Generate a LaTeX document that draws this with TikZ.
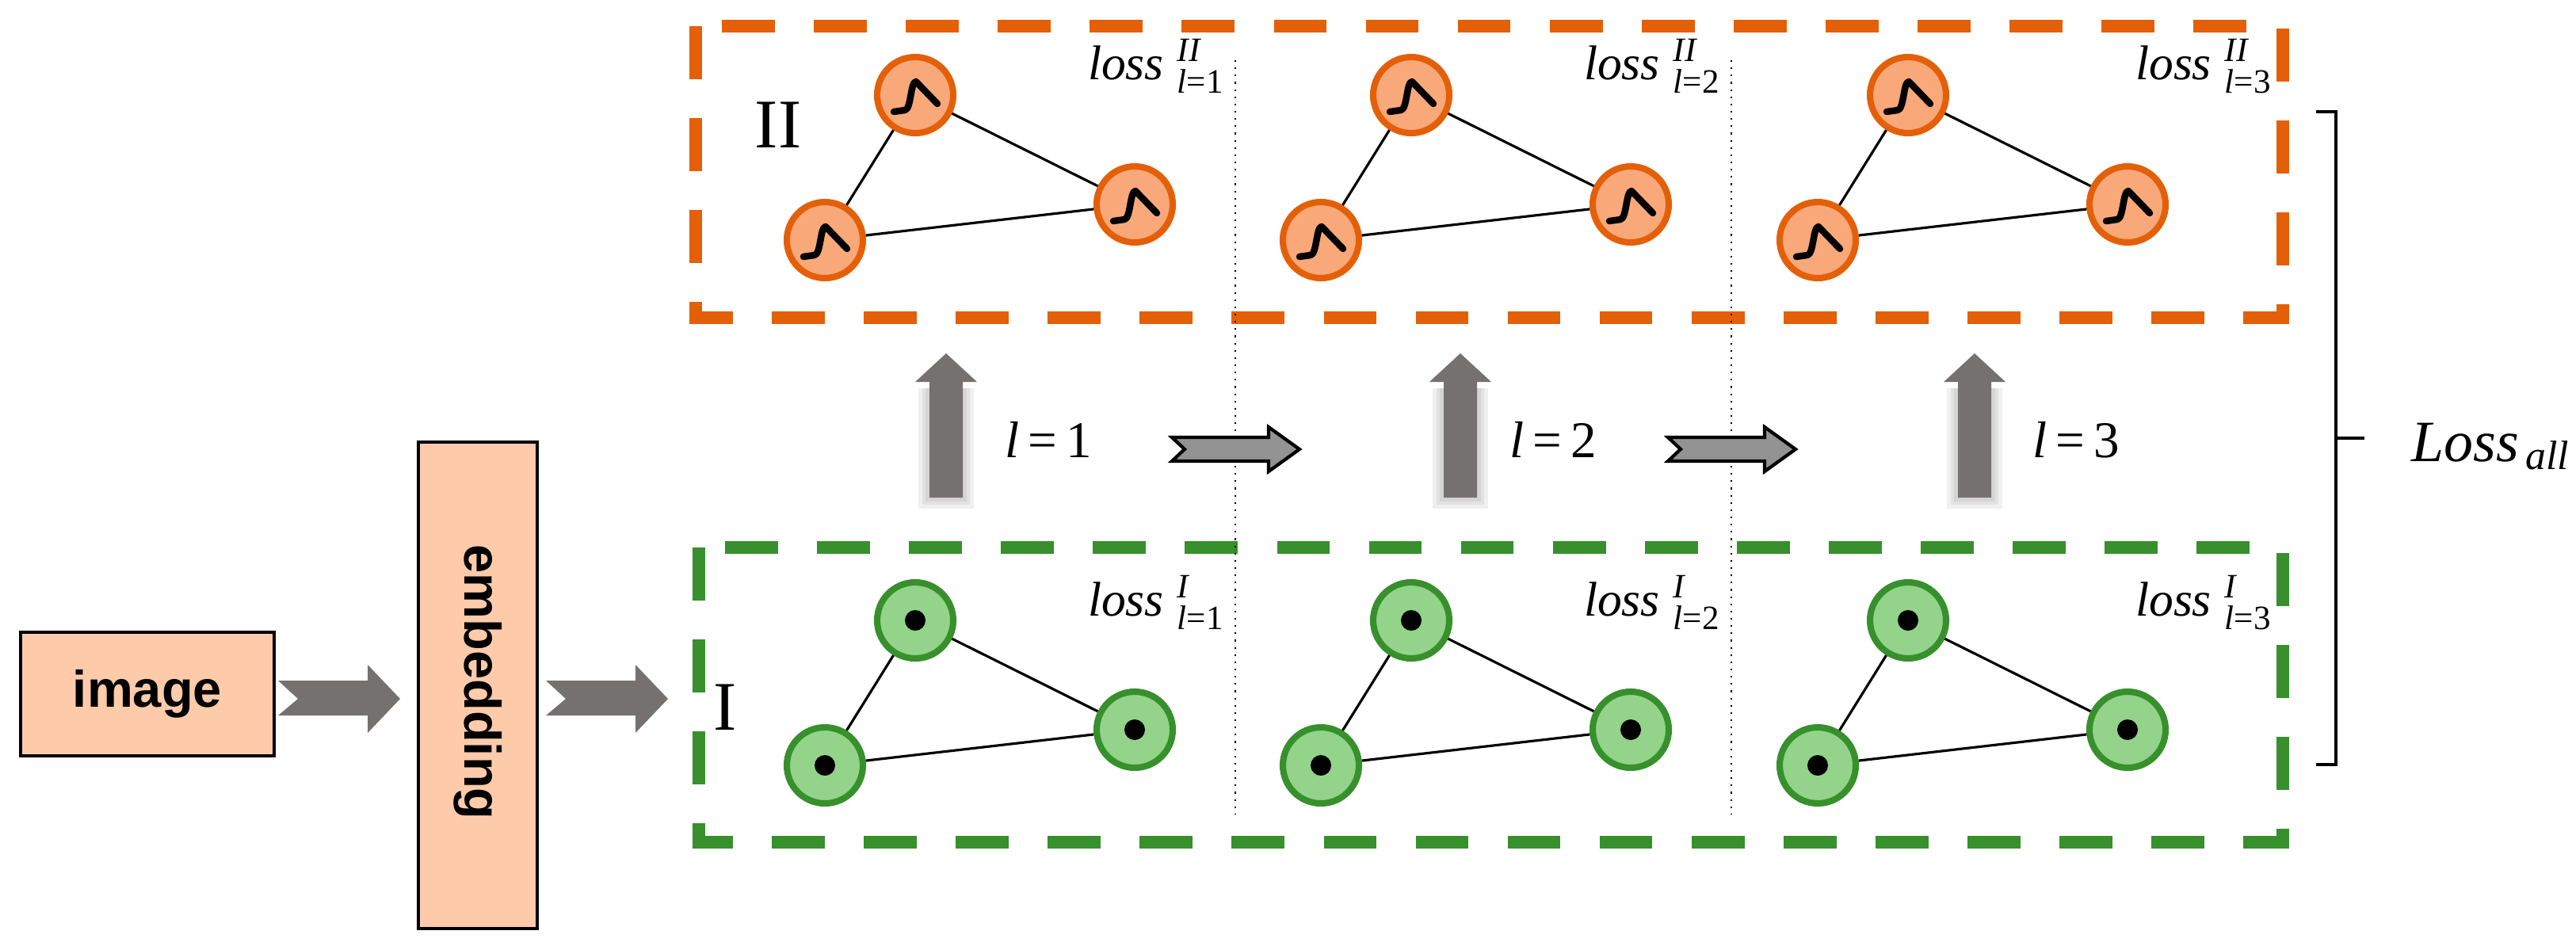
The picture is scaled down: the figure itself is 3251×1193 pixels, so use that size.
\documentclass[tikz,border=0pt]{standalone}
\usepackage{amsmath}
\usepackage{fontspec}
\setmainfont{Liberation Serif}
\newfontfamily\sansb{Liberation Sans}
\usetikzlibrary{calc}
\definecolor{orbox}{HTML}{E36009}
\definecolor{grbox}{HTML}{37902C}
\definecolor{orfill}{HTML}{F9A87A}
\definecolor{grfill}{HTML}{93D38A}
\definecolor{peach}{HTML}{FDCBAA}
\definecolor{arrgray}{HTML}{767171}
\newcommand\lossLab[2]{\textit{loss}$\;^{\textit{#1}}_{\textit{l}\text{=#2}}$}
\tikzset{
  px/.style={x=0.01cm,y=-0.01cm},
  onode/.style={circle,draw=orbox,fill=orfill,line width=2.3pt,minimum size=96\pxu,inner sep=0pt},
  gnode/.style={circle,draw=grbox,fill=grfill,line width=2.3pt,minimum size=96\pxu,inner sep=0pt},
  edge/.style={line width=0.9pt,black},
  obox/.style={draw=orbox,line width=4.3pt,dash pattern=on 19pt off 14pt},
  gbox/.style={draw=grbox,line width=4.3pt,dash pattern=on 19pt off 14pt},
  divider/.style={line width=0.6pt,dotted},
  peachbox/.style={draw=black,fill=peach,line width=1pt,inner sep=0pt},
  lossl/.style={font=\fontsize{17.5pt}{20pt}\selectfont,anchor=base east,inner sep=0pt},
  bigarrow/.style={fill=arrgray,draw=none},
  steparrow/.style={fill=gray!85,draw=black,line width=1.2pt},
}
\newlength\pxu \setlength\pxu{0.01cm}
\begin{document}
\begin{tikzpicture}[px]
\useasboundingbox (0,0) rectangle (3251,1193);
% boxes
\draw[obox] (878,33) rectangle (2881,401);
\draw[gbox] (882,691) rectangle (2881,1063);
\node[font=\fontsize{25pt}{30pt}\selectfont] (II) at (982,158) {II};
\node[font=\fontsize{25pt}{30pt}\selectfont] (I) at (915,893) {I};
% dividers
\coordinate (d1t) at (1559,76); \coordinate (d1b) at (1559,1028);
\coordinate (d2t) at (2185,76); \coordinate (d2b) at (2185,1028);
\draw[divider] (d1t) -- (d1b);
\draw[divider] (d2t) -- (d2b);
% graphs
\foreach \k/\dx in {1/0,2/626,3/1253}{
  \begin{scope}[xshift=\dx*0.01cm]
  \node[onode] (ot\k) at (1155,120) {};
  \node[onode] (ol\k) at (1041,303) {};
  \node[onode] (or\k) at (1432,258) {};
  \draw[edge] (ot\k) -- (ol\k); \draw[edge] (ot\k) -- (or\k); \draw[edge] (ol\k) -- (or\k);
  \foreach \n in {ot\k,ol\k,or\k}{
    \draw[line width=2.4pt,line cap=round,line join=round] ($(\n)+(-27,21)$) -- ($(\n)+(-13,19)$) .. controls ($(\n)+(-5,18)$) and ($(\n)+(-6,-17)$) .. ($(\n)+(1,-17)$) -- ($(\n)+(28,11)$);
  }
  \node[gnode] (gt\k) at (1155,783) {};
  \node[gnode] (gl\k) at (1041,966) {};
  \node[gnode] (gr\k) at (1432,921) {};
  \draw[edge] (gt\k) -- (gl\k); \draw[edge] (gt\k) -- (gr\k); \draw[edge] (gl\k) -- (gr\k);
  \foreach \n in {gt\k,gl\k,gr\k}{ \fill (\n) circle (13); }
  \end{scope}
}
% loss labels
\node[lossl] (lo1) at (1546,100) {\lossLab{II}{1}};
\node[lossl] (lo2) at (2172,100) {\lossLab{II}{2}};
\node[lossl] (lo3) at (2868,100) {\lossLab{II}{3}};
\node[lossl] (lg1) at (1546,777) {\lossLab{I}{1}};
\node[lossl] (lg2) at (2172,777) {\lossLab{I}{2}};
\node[lossl] (lg3) at (2868,777) {\lossLab{I}{3}};
% up arrows and l labels
\foreach \k/\x in {1/1194,2/1843,3/2492}{
  \foreach \e in {14,9,5}{
    \fill[black,opacity=0.06] (\x-21-\e,490) rectangle (\x+21+\e,628+\e);
  }
  \fill[bigarrow] (\x-21,628) -- (\x-21,482) -- (\x-39,482) -- (\x,446) -- (\x+39,482) -- (\x+21,482) -- (\x+21,628) -- cycle;
}
\node[font=\fontsize{18.5pt}{22pt}\selectfont,anchor=base west,inner sep=0pt] (l1) at (1268,577) {\textit{l}\,=\,1};
\node[font=\fontsize{18.5pt}{22pt}\selectfont,anchor=base west,inner sep=0pt] (l2) at (1905,577) {\textit{l}\,=\,2};
\node[font=\fontsize{18.5pt}{22pt}\selectfont,anchor=base west,inner sep=0pt] (l3) at (2565,577) {\textit{l}\,=\,3};
% step arrows
\foreach \x in {1479,2105}{
  \draw[steparrow] (\x,552) -- (\x+122,552) -- (\x+122,539) -- (\x+161,567) -- (\x+122,595) -- (\x+122,582) -- (\x,582) -- (\x+16,567) -- cycle;
}
% brace
\coordinate (bt) at (2923,141); \coordinate (bb) at (2923,965); \coordinate (bm) at (2984,553);
\draw[line width=1.1pt] (bt) -- (2948,141) -- (2948,965) -- (bb);
\draw[line width=1.1pt] (2948,553) -- (bm);
\node[anchor=base west,inner sep=0pt,font=\fontsize{21pt}{25pt}\selectfont] (lall) at (3043,582) {\textit{Loss}$_{\,\textit{all}}$};
% left part
\node[peachbox,minimum width=320\pxu,minimum height=156\pxu,font=\sansb\bfseries\fontsize{18.5pt}{22pt}\selectfont] (img) at (186,876) {image};
\node[peachbox,minimum width=150\pxu,minimum height=614\pxu] (emb) at (603,865) {};
\node[rotate=-90,font=\sansb\bfseries\fontsize{18.5pt}{22pt}\selectfont] (embt) at (603,861) {embedding};
\foreach \x in {351,689}{
  \fill[bigarrow] (\x,859) -- (\x+113,859) -- (\x+113,839) -- (\x+154,882) -- (\x+113,925) -- (\x+113,903) -- (\x,903) -- (\x+25,882) -- cycle;
}
\end{tikzpicture}
\end{document}
